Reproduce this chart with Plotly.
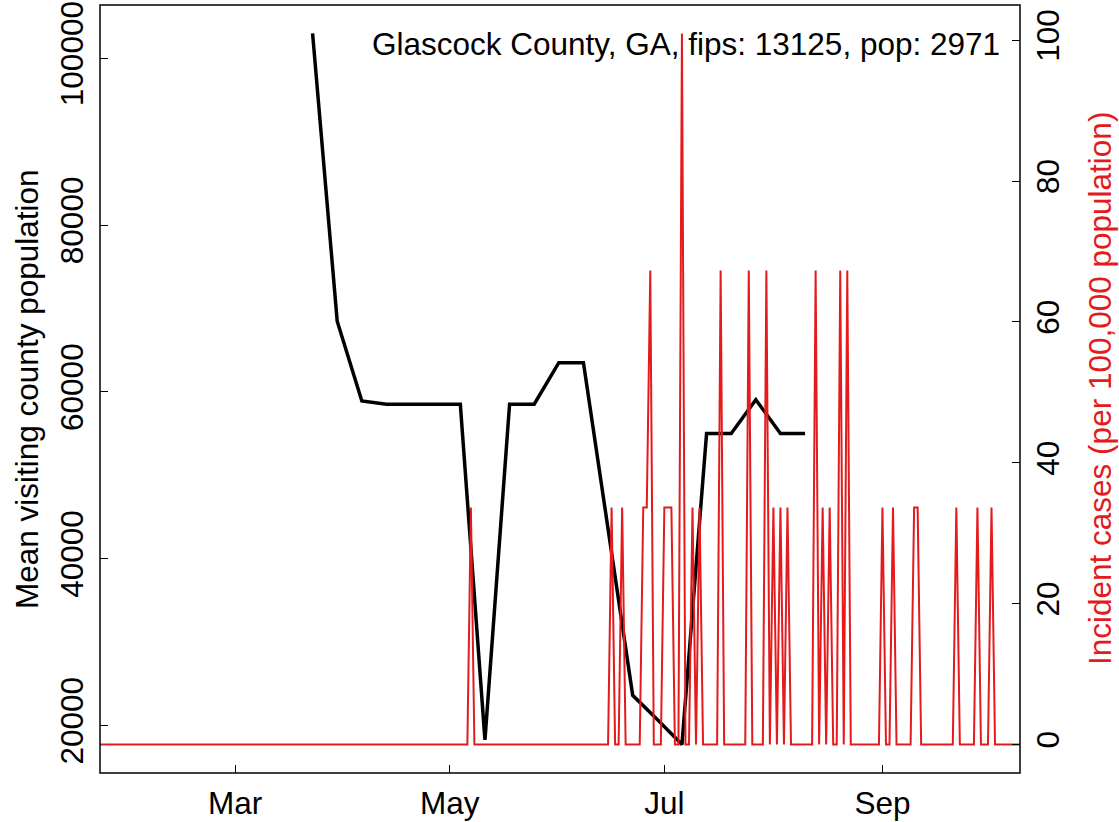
import pandas as pd
import plotly.graph_objects as go

# ---- data ----
# black line: weekly mean visiting county population
mob_dates = ["2020-03-23", "2020-03-30", "2020-04-06", "2020-04-13", "2020-04-20",
             "2020-04-27", "2020-05-04", "2020-05-11", "2020-05-18", "2020-05-25",
             "2020-06-01", "2020-06-08", "2020-06-15", "2020-06-22", "2020-06-29",
             "2020-07-06", "2020-07-13", "2020-07-20", "2020-07-27", "2020-08-03",
             "2020-08-10"]
mob_values = [102985, 68480, 58900, 58520, 58520,
              58520, 58520, 18250, 58520, 58520,
              63500, 63500, 43500, 23600, 20700,
              17700, 55000, 55000, 59070, 55000,
              55000]

# red line: daily incident cases per 100,000 (zero on all other days)
case_start = "2020-01-22"
case_end = "2020-10-11"
spike_dates = ["2020-05-07", "2020-06-16", "2020-06-19", "2020-06-25", "2020-06-26",
               "2020-06-27", "2020-07-01", "2020-07-02", "2020-07-03", "2020-07-06",
               "2020-07-09", "2020-07-11", "2020-07-17", "2020-07-25", "2020-07-30",
               "2020-08-01", "2020-08-03", "2020-08-05", "2020-08-13", "2020-08-15",
               "2020-08-17", "2020-08-20", "2020-08-22", "2020-09-01", "2020-09-04",
               "2020-09-10", "2020-09-11", "2020-09-22", "2020-09-28", "2020-10-02"]
spike_values = [33.66, 33.66, 33.66, 33.66, 33.66,
                67.32, 33.66, 33.66, 33.66, 100.97,
                33.66, 33.66, 67.32, 67.32, 67.32,
                33.66, 33.66, 33.66, 67.32, 33.66,
                33.66, 67.32, 67.32, 33.66, 33.66,
                33.66, 33.66, 33.66, 33.66, 33.66]

x_tick_vals = ["2020-03-01", "2020-05-01", "2020-07-01", "2020-09-01"]
x_tick_text = ["Mar", "May", "Jul", "Sep"]
left_ticks = [20000, 40000, 60000, 80000, 100000]
left_tick_text = ["20000", "40000", "60000", "80000", "100000"]
right_ticks = [0, 20, 40, 60, 80, 100]

title_text = "Glascock County, GA, fips: 13125, pop: 2971"
left_title = "Mean visiting county population"
right_title = "Incident cases (per 100,000 population)"

# ---- build daily case series ----
days = pd.date_range(case_start, case_end, freq="D")
cases = pd.Series(0.0, index=days)
for d, v in zip(spike_dates, spike_values):
    cases[pd.Timestamp(d)] = v

RED = "#E41A1C"
FONT = "Liberation Sans"
FS = 31.5

W, H = 1119, 822
L, R, T, B = 100, 99, 5, 49
PW, PH = W - L - R, H - T - B

def px_x(x):
    return (x - L) / PW

def px_y(y):
    return (H - B - y) / PH

fig = go.Figure()
fig.add_trace(go.Scatter(x=pd.to_datetime(mob_dates), y=mob_values, mode="lines",
                         line=dict(color="black", width=3.5), yaxis="y",
                         showlegend=False, hoverinfo="skip"))
fig.add_trace(go.Scatter(x=cases.index, y=cases.values, mode="lines",
                         line=dict(color=RED, width=2), yaxis="y2",
                         showlegend=False, hoverinfo="skip"))

x0 = pd.Timestamp("2020-01-22") + pd.Timedelta(hours=0.57 * 24)
x1 = pd.Timestamp("2020-01-22") + pd.Timedelta(hours=262.1 * 24)

axis_common = dict(ticks="inside", ticklen=8, tickwidth=1.3, tickcolor="black",
                   showgrid=False, zeroline=False, showline=False, automargin=False,
                   tickfont=dict(family=FONT, size=FS, color="black"))

fig.update_layout(
    width=W, height=H,
    margin=dict(l=L, r=R, t=T, b=B, pad=0, autoexpand=False),
    paper_bgcolor="white", plot_bgcolor="white",
    xaxis=dict(type="date", range=[x0, x1], tickvals=pd.to_datetime(x_tick_vals),
               ticktext=x_tick_text, ticklabelstandoff=8, **axis_common),
    yaxis=dict(range=[14289, 106396], tickvals=left_ticks, ticktext=left_tick_text,
               tickangle=-90, ticklabelstandoff=10, **axis_common),
    yaxis2=dict(range=[-4.04, 105.01], tickvals=right_ticks, tickangle=-90,
                overlaying="y", side="right", ticklabelstandoff=6, **axis_common),
    shapes=[dict(type="rect", xref="paper", yref="paper", x0=0, x1=1, y0=0, y1=1,
                 line=dict(color="black", width=1.5), fillcolor="rgba(0,0,0,0)",
                 layer="above")],
    annotations=[
        dict(text=title_text, xref="paper", yref="paper", x=px_x(1002), y=px_y(44),
             xanchor="right", yanchor="middle", showarrow=False,
             font=dict(family=FONT, size=FS, color="black")),
        dict(text=left_title, xref="paper", yref="paper", x=px_x(27), y=0.5,
             xanchor="center", yanchor="middle", textangle=-90, showarrow=False,
             font=dict(family=FONT, size=FS, color="black")),
        dict(text=right_title, xref="paper", yref="paper", x=px_x(1100), y=0.5,
             xanchor="center", yanchor="middle", textangle=-90, showarrow=False,
             font=dict(family=FONT, size=FS, color=RED)),
    ],
)

fig.write_html("out.html",
               config={"displayModeBar": False},
               post_script="document.body.style.margin='0px';"
                           "document.body.style.overflow='hidden';")
